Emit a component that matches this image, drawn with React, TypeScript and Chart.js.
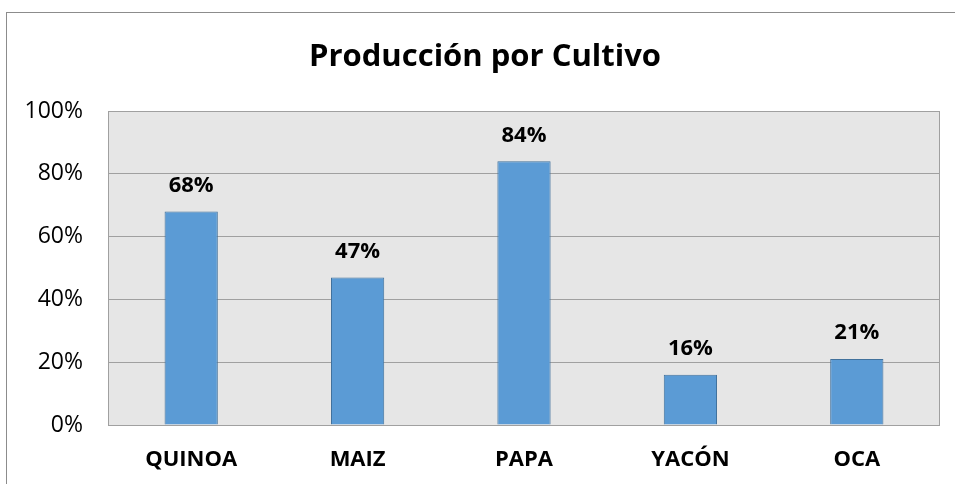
import React, { useEffect, useRef } from "react";
import { Chart, registerables } from "chart.js";

Chart.register(...registerables);

const categories = ["QUINOA", "MAIZ", "PAPA", "YACÓN", "OCA"];
const values = [68, 47, 84, 16, 21];
const yTicks = [0, 20, 40, 60, 80, 100];
const titleText = "Producción por Cultivo";

const FONT = "'Open Sans', Lato, sans-serif";

const plotDecor = {
  id: "plotDecor",
  beforeDraw(chart: any) {
    const { ctx, chartArea } = chart;
    ctx.save();
    ctx.fillStyle = "#e6e6e6";
    ctx.fillRect(chartArea.left, chartArea.top, chartArea.right - chartArea.left, chartArea.bottom - chartArea.top);
    ctx.fillStyle = "#000";
    ctx.font = `bold 31px ${FONT}`;
    ctx.textAlign = "center";
    ctx.textBaseline = "middle";
    ctx.fillText(titleText, 485, 57);
    ctx.restore();
  },
  afterDatasetsDraw(chart: any) {
    const { ctx, chartArea } = chart;
    ctx.save();
    ctx.strokeStyle = "#a0a0a0";
    ctx.lineWidth = 1;
    ctx.strokeRect(chartArea.left + 0.5, chartArea.top + 0.5, chartArea.right - chartArea.left - 1, chartArea.bottom - chartArea.top);
    const meta = chart.getDatasetMeta(0);
    ctx.fillStyle = "#000";
    ctx.font = `bold 22px ${FONT}`;
    ctx.textAlign = "center";
    ctx.textBaseline = "middle";
    meta.data.forEach((bar: any, i: number) => {
      ctx.fillText(values[i] + "%", bar.x, bar.y - 26);
    });
    ctx.restore();
  },
};

export default function App() {
  const ref = useRef<HTMLCanvasElement>(null);
  useEffect(() => {
    const chart = new Chart(ref.current!, {
      type: "bar",
      data: {
        labels: categories,
        datasets: [
          {
            data: values,
            backgroundColor: "#5b9bd5",
            borderColor: "#41719c",
            borderWidth: 1,
            categoryPercentage: 1,
            barPercentage: 0.32,
          },
        ],
      },
      options: {
        animation: false,
        responsive: false,
        layout: { padding: { top: 111, right: 15, bottom: 11, left: 0 } },
        plugins: {
          legend: { display: false },
          tooltip: { enabled: false },
          title: { display: false },
        },
        scales: {
          x: {
            afterFit(scale: any) {
              scale.height = 48;
            },
            grid: { display: false, drawTicks: false },
            border: { display: false },
            ticks: {
              color: "#000",
              font: { family: FONT, size: 22, weight: "bold" },
              padding: 22,
              maxRotation: 0,
            },
          },
          y: {
            min: 0,
            max: 100,
            afterFit(scale: any) {
              scale.width = 108;
            },
            afterBuildTicks(scale: any) {
              scale.ticks = yTicks.map((v) => ({ value: v }));
            },
            grid: { color: "#a0a0a0", drawTicks: false },
            border: { display: false },
            ticks: {
              color: "#000",
              font: { family: FONT, size: 23 },
              padding: 25,
              callback: (v: any) => v + "%",
            },
          },
        },
      },
      plugins: [plotDecor],
    });
    return () => chart.destroy();
  }, []);
  return (
    <div style={{ position: "fixed", left: 0, top: 0, width: 955, height: 484, background: "#fff", overflow: "hidden" }}>
      <div
        style={{
          position: "absolute",
          left: 6,
          top: 12,
          width: 1000,
          height: 600,
          borderLeft: "1px solid #8c8c8c",
          borderTop: "1px solid #8c8c8c",
        }}
      />
      <canvas ref={ref} width={955} height={484} style={{ position: "absolute", left: 0, top: 0 }} />
    </div>
  );
}
